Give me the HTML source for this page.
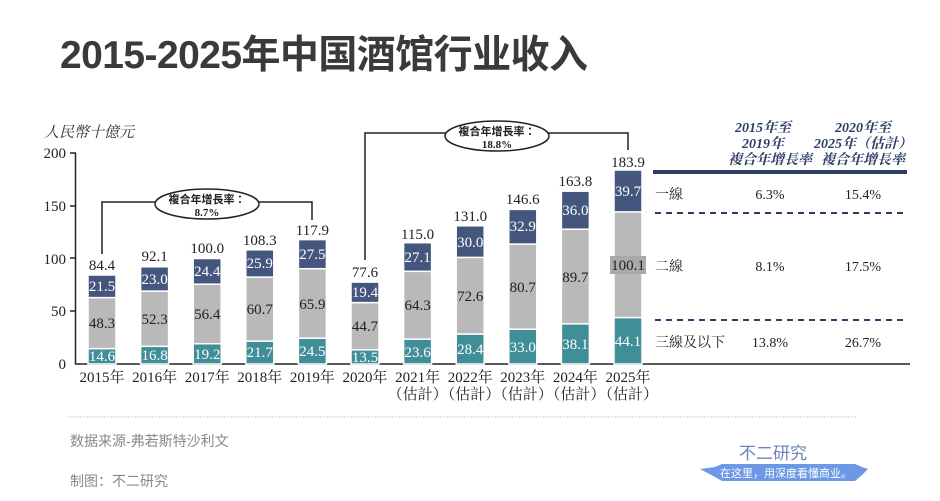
<!DOCTYPE html><html><head><meta charset="utf-8"><style>body{margin:0;background:#fff}svg{display:block}</style></head><body>
<svg width="940" height="501" viewBox="0 0 940 501" xmlns="http://www.w3.org/2000/svg" font-family="'Liberation Serif','Noto Serif CJK SC',serif">
<rect width="940" height="501" fill="#fff"/>
<text x="60" y="68" font-family="'Liberation Sans','Noto Sans CJK SC',sans-serif" font-weight="bold" font-size="39" fill="#3a3a3a" textLength="528">2015-2025年中国酒馆行业收入</text>
<text x="44" y="137" font-size="15" font-style="italic" fill="#333">人民幣十億元</text>
<g font-size="15" fill="#222" text-anchor="end">
<text x="66" y="158">200</text><text x="66" y="211">150</text><text x="66" y="264">100</text><text x="66" y="316">50</text><text x="66" y="369">0</text></g>
<g stroke="#222" stroke-width="1.5"><line x1="75.5" y1="153" x2="75.5" y2="364"/><line x1="70" y1="153" x2="76" y2="153"/><line x1="70" y1="206" x2="76" y2="206"/><line x1="70" y1="258" x2="76" y2="258"/><line x1="70" y1="311" x2="76" y2="311"/><line x1="75" y1="364" x2="910" y2="364"/></g>
<g stroke="#fff" stroke-width="1.5">
<rect x="88" y="348.6" width="28" height="15.4" fill="#3f8e98"/><rect x="88" y="297.6" width="28" height="51" fill="#b9b9b9"/><rect x="88" y="275" width="28" height="22.6" fill="#44567e"/>
<rect x="140.6" y="346.3" width="28" height="17.7" fill="#3f8e98"/><rect x="140.6" y="291.1" width="28" height="55.2" fill="#b9b9b9"/><rect x="140.6" y="266.8" width="28" height="24.3" fill="#44567e"/>
<rect x="193.2" y="343.7" width="28" height="20.3" fill="#3f8e98"/><rect x="193.2" y="284.2" width="28" height="59.5" fill="#b9b9b9"/><rect x="193.2" y="258.5" width="28" height="25.7" fill="#44567e"/>
<rect x="245.8" y="341.1" width="28" height="22.9" fill="#3f8e98"/><rect x="245.8" y="277.1" width="28" height="64" fill="#b9b9b9"/><rect x="245.8" y="249.8" width="28" height="27.3" fill="#44567e"/>
<rect x="298.4" y="338.2" width="28" height="25.8" fill="#3f8e98"/><rect x="298.4" y="268.7" width="28" height="69.5" fill="#b9b9b9"/><rect x="298.4" y="239.6" width="28" height="29.1" fill="#44567e"/>
<rect x="351" y="349.8" width="28" height="14.2" fill="#3f8e98"/><rect x="351" y="302.6" width="28" height="47.2" fill="#b9b9b9"/><rect x="351" y="282.1" width="28" height="20.5" fill="#44567e"/>
<rect x="403.6" y="339.1" width="28" height="24.9" fill="#3f8e98"/><rect x="403.6" y="271.3" width="28" height="67.8" fill="#b9b9b9"/><rect x="403.6" y="242.7" width="28" height="28.6" fill="#44567e"/>
<rect x="456.2" y="334" width="28" height="30" fill="#3f8e98"/><rect x="456.2" y="257.4" width="28" height="76.6" fill="#b9b9b9"/><rect x="456.2" y="225.8" width="28" height="31.6" fill="#44567e"/>
<rect x="508.8" y="329.2" width="28" height="34.8" fill="#3f8e98"/><rect x="508.8" y="244.1" width="28" height="85.1" fill="#b9b9b9"/><rect x="508.8" y="209.4" width="28" height="34.7" fill="#44567e"/>
<rect x="561.4" y="323.8" width="28" height="40.2" fill="#3f8e98"/><rect x="561.4" y="229.2" width="28" height="94.6" fill="#b9b9b9"/><rect x="561.4" y="191.2" width="28" height="38" fill="#44567e"/>
<rect x="614" y="317.5" width="28" height="46.5" fill="#3f8e98"/><rect x="614" y="211.9" width="28" height="105.6" fill="#b9b9b9"/><rect x="614" y="170" width="28" height="41.9" fill="#44567e"/>
</g>
<rect x="610" y="256" width="36" height="18" fill="#a9a9a9"/>
<g font-size="15" text-anchor="middle">
<g fill="#fff">
<text x="102" y="361">14.6</text><text x="154.6" y="360">16.8</text><text x="207.2" y="359">19.2</text><text x="259.8" y="357">21.7</text><text x="312.4" y="356">24.5</text><text x="365" y="362">13.5</text><text x="417.6" y="357">23.6</text><text x="470.2" y="354">28.4</text><text x="522.8" y="352">33.0</text><text x="575.4" y="349">38.1</text><text x="628" y="346">44.1</text>
<text x="102" y="291">21.5</text><text x="154.6" y="284">23.0</text><text x="207.2" y="276">24.4</text><text x="259.8" y="268">25.9</text><text x="312.4" y="259">27.5</text><text x="365" y="297">19.4</text><text x="417.6" y="262">27.1</text><text x="470.2" y="247">30.0</text><text x="522.8" y="231">32.9</text><text x="575.4" y="215">36.0</text><text x="628" y="196">39.7</text></g>
<g fill="#222">
<text x="102" y="328">48.3</text><text x="154.6" y="324">52.3</text><text x="207.2" y="319">56.4</text><text x="259.8" y="314">60.7</text><text x="312.4" y="309">65.9</text><text x="365" y="331">44.7</text><text x="417.6" y="310">64.3</text><text x="470.2" y="301">72.6</text><text x="522.8" y="292">80.7</text><text x="575.4" y="282">89.7</text><text x="628" y="270">100.1</text>
<text x="102" y="270">84.4</text><text x="154.6" y="261">92.1</text><text x="207.2" y="253">100.0</text><text x="259.8" y="245">108.3</text><text x="312.4" y="235">117.9</text><text x="365" y="277">77.6</text><text x="417.6" y="239">115.0</text><text x="470.2" y="221">131.0</text><text x="522.8" y="204">146.6</text><text x="575.4" y="186">163.8</text><text x="628" y="167">183.9</text>
<text x="102" y="382">2015年</text><text x="154.6" y="382">2016年</text><text x="207.2" y="382">2017年</text><text x="259.8" y="382">2018年</text><text x="312.4" y="382">2019年</text><text x="365" y="382">2020年</text><text x="417.6" y="382">2021年</text><text x="470.2" y="382">2022年</text><text x="522.8" y="382">2023年</text><text x="575.4" y="382">2024年</text><text x="628" y="382">2025年</text>
<text x="417.6" y="399">（估計）</text><text x="470.2" y="399">（估計）</text><text x="522.8" y="399">（估計）</text><text x="575.4" y="399">（估計）</text><text x="628" y="399">（估計）</text>
</g></g>
<g fill="none" stroke="#222" stroke-width="1.5">
<polyline points="102,254 102,202 312,202 312,220"/><polyline points="365,260 365,133 628,133 628,150"/></g>
<ellipse cx="207" cy="204" rx="52" ry="15" fill="#fff" stroke="#222" stroke-width="1.5"/>
<ellipse cx="497" cy="136" rx="52" ry="15" fill="#fff" stroke="#222" stroke-width="1.5"/>
<g font-size="11" font-weight="bold" text-anchor="middle" fill="#222">
<text x="207" y="203" font-family="'Liberation Sans','Noto Sans CJK TC',sans-serif">複合年增長率：</text><text x="207" y="216">8.7%</text>
<text x="497" y="135" font-family="'Liberation Sans','Noto Sans CJK TC',sans-serif">複合年增長率：</text><text x="497" y="148">18.8%</text></g>
<g font-size="14" font-weight="bold" font-style="italic" fill="#2c3e66" text-anchor="middle" font-family="'Liberation Serif','Noto Serif CJK TC',serif">
<text x="763" y="132">2015年至</text><text x="763" y="148">2019年</text><text x="770" y="164">複合年增長率</text>
<text x="863" y="132">2020年至</text><text x="863" y="148">2025年（估計）</text><text x="863" y="164">複合年增長率</text></g>
<rect x="653" y="170" width="254" height="4" fill="#2c3e66"/>
<g stroke="#2c3e66" stroke-width="2" stroke-dasharray="6,5"><line x1="655" y1="213" x2="907" y2="213"/><line x1="655" y1="320" x2="907" y2="320"/></g>
<g font-size="14" fill="#222">
<text x="655" y="199">一線</text><text x="655" y="271">二線</text><text x="655" y="347">三線及以下</text>
<g text-anchor="middle"><text x="770" y="199">6.3%</text><text x="863" y="199">15.4%</text><text x="770" y="271">8.1%</text><text x="863" y="271">17.5%</text><text x="770" y="347">13.8%</text><text x="863" y="347">26.7%</text></g></g>
<line x1="68" y1="417" x2="856" y2="417" stroke="#ccc" stroke-width="1" stroke-dasharray="2,1"/>
<g font-family="'Liberation Sans','Noto Sans CJK SC',sans-serif" font-size="14" fill="#888">
<text x="70" y="446">数据来源-弗若斯特沙利文</text><text x="70" y="486">制图：不二研究</text></g>
<text x="773" y="459" text-anchor="middle" font-family="'Liberation Sans','Noto Sans CJK SC',sans-serif" font-size="17" fill="#6b84b8">不二研究</text>
<path d="M700,469 L715,467 L722,464 L855,464 L862,467 L868,469 L862,475 L855,481 L722,481 L715,477 Z" fill="#6d98e6"/>
<text x="786" y="477" text-anchor="middle" font-family="'Liberation Sans','Noto Sans CJK SC',sans-serif" font-size="11" fill="#fff">在这里，用深度看懂商业。</text>
</svg></body></html>
